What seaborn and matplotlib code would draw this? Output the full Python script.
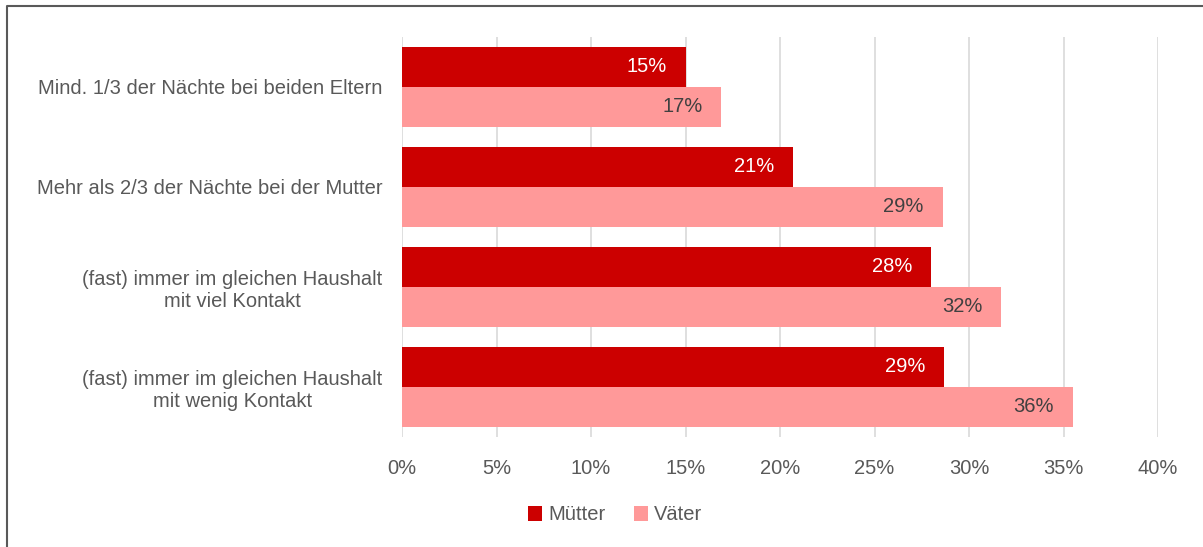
import pandas as pd
import seaborn as sns
import matplotlib.pyplot as plt
from matplotlib.lines import Line2D

categories = ['Mind. 1/3 der Nächte bei beiden Eltern',
              'Mehr als 2/3 der Nächte bei der Mutter',
              '(fast) immer im gleichen Haushalt\nmit viel Kontakt',
              '(fast) immer im gleichen Haushalt\nmit wenig Kontakt']
muetter = [15.0, 20.7, 28.0, 28.7]
vaeter = [16.9, 28.6, 31.7, 35.5]
muetter_labels = ['15%', '21%', '28%', '29%']
vaeter_labels = ['17%', '29%', '32%', '36%']
series = ['Mütter', 'Väter']
colors = ['#CC0000', '#FF9999']

df = pd.DataFrame({'Kategorie': categories * 2,
                   'Wert': muetter + vaeter,
                   'Gruppe': [series[0]] * 4 + [series[1]] * 4})

sns.set_style('white')
plt.rcParams['font.family'] = ['Liberation Sans', 'DejaVu Sans']
grey = '#595959'
fs = 14.5

fig = plt.figure(figsize=(12.03, 5.47), dpi=100)
ax = fig.add_axes([402 / 1203, 1 - 437 / 547, 756 / 1203, 400 / 547])
sns.barplot(data=df, y='Kategorie', x='Wert', hue='Gruppe', orient='h',
            palette=colors, width=0.8, ax=ax, saturation=1, legend=True,
            linewidth=0)

ax.set_xlim(0, 40)
ax.set_ylim(3.5, -0.5)
ax.set_xticks(range(0, 41, 5))
ax.set_xticklabels([f'{v}%' for v in range(0, 41, 5)])
ax.xaxis.grid(True, color='#D9D9D9', linewidth=1.2)
ax.set_axisbelow(True)
for s in ax.spines.values():
    s.set_visible(False)
ax.set_xlabel('')
ax.set_ylabel('')
ax.tick_params(axis='both', length=0, labelsize=fs, colors=grey)
ax.tick_params(axis='x', pad=16)
ax.tick_params(axis='y', pad=14)
for lab in ax.get_yticklabels():
    lab.set_multialignment('center')

for cont, labs, tc in zip(ax.containers, [muetter_labels, vaeter_labels], ['white', '#404040']):
    for rect, lab in zip(cont, labs):
        ax.annotate(lab, (rect.get_width(), rect.get_y() + rect.get_height() / 2),
                    xytext=(-19, 0), textcoords='offset pixels',
                    ha='right', va='center', color=tc, fontsize=fs)

leg = ax.legend(loc='center', bbox_to_anchor=(615 / 1203, 1 - 515 / 547),
                bbox_transform=fig.transFigure, ncol=2, frameon=False,
                fontsize=fs, handlelength=0.7, handleheight=0.7,
                handletextpad=0.3, columnspacing=1.4)
for t in leg.get_texts():
    t.set_color(grey)

# outer frame, only top and left edges are visible
fig.lines.append(Line2D([7 / 1203, 7 / 1203, 1.0], [0.0, 1 - 6 / 547, 1 - 6 / 547],
                        transform=fig.transFigure, color='#595959', linewidth=1.5))

fig.savefig('out.png', dpi=100)
